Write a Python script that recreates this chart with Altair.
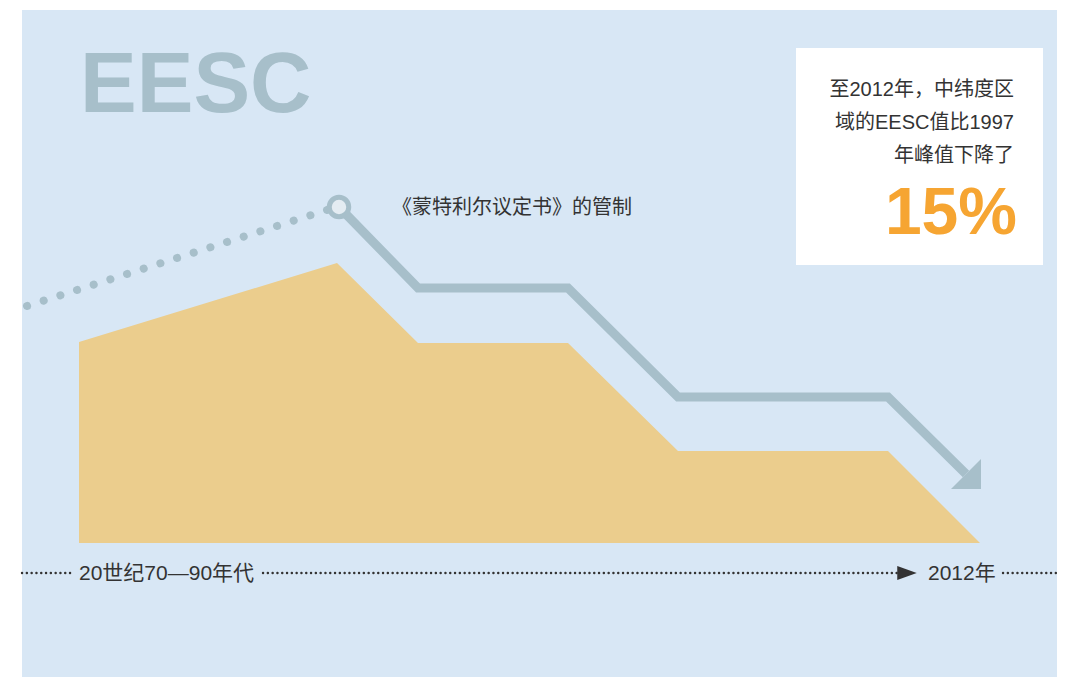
import altair as alt
import pandas as pd

# ---- data (page-pixel coordinate frame of the schematic) ----
area_x = [79, 337, 418, 568, 678, 888, 980]
area_y = [342, 263, 343, 343, 451, 451, 543]
area_base = 543

line_x = [339, 418, 568, 678, 888, 966]
line_y = [207, 288, 288, 397, 397, 474]

dots_x = [27, 330]
dots_y = [306, 209]

axis_segments = [(22, 72), (263, 897), (1003, 1060)]
axis_y = 573

bg = {"x": 22, "x2": 1060, "y": 10, "y2": 680}
box = {"x": 796, "x2": 1043, "y": 48, "y2": 265}

box_lines = ["至2012年，中纬度区", "域的EESC值比1997", "年峰值下降了"]
box_line_y = [90, 123, 156]
box_text_x = 1014

big_value = "15%"
title_text = "EESC"
note_text = "《蒙特利尔议定书》的管制"
axis_labels = ["20世纪70—90年代", "2012年"]
axis_label_x = [79, 928]

BLUE = "#d8e7f5"
GREY = "#a7bfca"
AREA = "#ebcd8d"
ORANGE = "#f6a532"
TXT = "#333333"
FONT = "Liberation Sans, Noto Sans CJK SC"

W, H = 1049, 669
xs = alt.Scale(domain=[8, 8 + W], nice=False, zero=False)
ys = alt.Scale(domain=[8, 8 + H], nice=False, zero=False, reverse=True)

def X(f="x"):
    return alt.X(f"{f}:Q", scale=xs, axis=None)

def Y(f="y"):
    return alt.Y(f"{f}:Q", scale=ys, axis=None)

rects = pd.DataFrame([dict(bg, c=BLUE), dict(box, c="#ffffff")])
rect_layer = alt.Chart(rects).mark_rect().encode(
    x=X(), x2="x2:Q", y=Y(), y2="y2:Q",
    color=alt.Color("c:N", scale=None),
)

area_df = pd.DataFrame({"x": area_x, "y": area_y, "y2": [area_base] * len(area_x)})
area_layer = alt.Chart(area_df).mark_area(color=AREA, opacity=1).encode(
    x=X(), y=Y(), y2="y2:Q"
)

line_df = pd.DataFrame({"x": line_x, "y": line_y, "o": range(len(line_x))})
line_layer = alt.Chart(line_df).mark_line(
    color=GREY, strokeWidth=9, strokeJoin="miter"
).encode(x=X(), y=Y(), order="o:Q")

dots_df = pd.DataFrame({"x": dots_x, "y": dots_y})
dots_layer = alt.Chart(dots_df).mark_line(
    color=GREY, strokeWidth=8, strokeCap="round", strokeDash=[0.1, 17.4]
).encode(x=X(), y=Y())

circle_df = pd.DataFrame({"x": [line_x[0]], "y": [line_y[0]]})
circle_layer = alt.Chart(circle_df).mark_point(
    shape="circle", size=380, filled=False, stroke=GREY, strokeWidth=5,
    fill="#e4ecf2", fillOpacity=1, opacity=1,
).encode(x=X(), y=Y())

arrow_df = pd.DataFrame({"x": [line_x[-1]], "y": [line_y[-1]]})
arrow_layer = alt.Chart(arrow_df).mark_point(
    shape="M1,-1L1,1L-1,1Z", size=900, filled=True, color=GREY, opacity=1,
).encode(x=X(), y=Y())

seg_rows = []
for i, (a, b) in enumerate(axis_segments):
    seg_rows += [{"x": a, "y": axis_y, "s": i}, {"x": b, "y": axis_y, "s": i}]
seg_df = pd.DataFrame(seg_rows)
axis_layer = alt.Chart(seg_df).mark_line(
    color=TXT, strokeWidth=2.4, strokeCap="round", strokeDash=[0.1, 4.7]
).encode(x=X(), y=Y(), detail="s:N")

axarrow_df = pd.DataFrame({"x": [907], "y": [axis_y]})
axarrow_layer = alt.Chart(axarrow_df).mark_point(
    shape="M-1,-0.72L1,0L-1,0.72Z", size=380, filled=True, color=TXT, opacity=1,
).encode(x=X(), y=Y())

axlab_df = pd.DataFrame({"x": axis_label_x, "y": [axis_y] * 2, "t": axis_labels})
axlab_layer = alt.Chart(axlab_df).mark_text(
    align="left", baseline="middle", font=FONT, fontSize=21, color=TXT, dy=1
).encode(x=X(), y=Y(), text="t:N")

title_df = pd.DataFrame({"x": [80], "y": [112], "t": [title_text]})
title_layer = alt.Chart(title_df).mark_text(
    align="left", baseline="alphabetic", font=FONT, fontSize=85,
    fontWeight="bold", color=GREY
).encode(x=X(), y=Y(), text="t:N")

note_df = pd.DataFrame({"x": [392], "y": [208], "t": [note_text]})
note_layer = alt.Chart(note_df).mark_text(
    align="left", baseline="middle", font=FONT, fontSize=20, color=TXT
).encode(x=X(), y=Y(), text="t:N")

boxtxt_df = pd.DataFrame({"x": [box_text_x] * 3, "y": box_line_y, "t": box_lines})
boxtxt_layer = alt.Chart(boxtxt_df).mark_text(
    align="right", baseline="middle", font=FONT, fontSize=20, color=TXT
).encode(x=X(), y=Y(), text="t:N")

big_df = pd.DataFrame({"x": [box_text_x + 3], "y": [234], "t": [big_value]})
big_layer = alt.Chart(big_df).mark_text(
    align="right", baseline="alphabetic", font=FONT, fontSize=66,
    fontWeight="bold", color=ORANGE
).encode(x=X(), y=Y(), text="t:N")

chart = alt.layer(
    rect_layer, area_layer, dots_layer, line_layer, arrow_layer, circle_layer,
    axis_layer, axarrow_layer, axlab_layer, title_layer, note_layer,
    boxtxt_layer, big_layer,
).properties(
    width=W, height=H, padding=0, background="white",
    autosize=alt.AutoSizeParams(type="none"),
).configure_view(stroke=None)

chart.save("out.html", embed_options={"renderer": "svg", "actions": False})
